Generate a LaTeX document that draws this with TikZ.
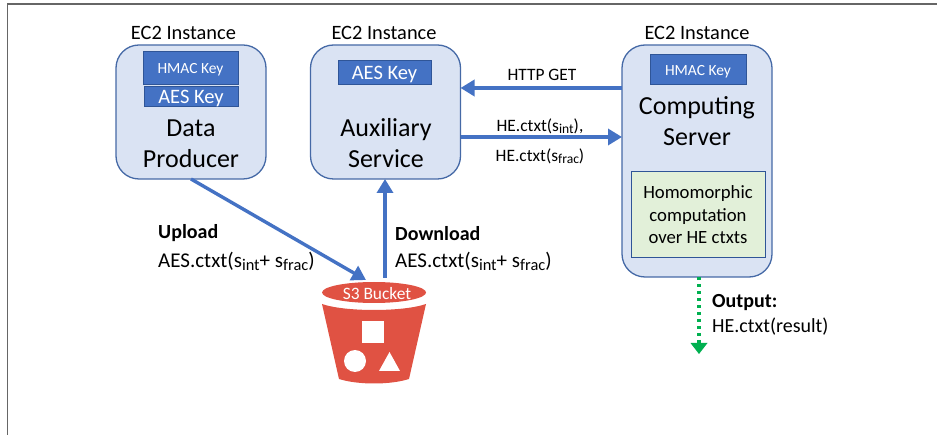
\documentclass[tikz,border=0pt]{standalone}
\usepackage{fontspec}
\setmainfont{Carlito}
\usepackage{graphicx}
\usepackage{tikz}
\usetikzlibrary{arrows.meta}
\usetikzlibrary{shapes.geometric}
\definecolor{awsblue}{HTML}{4472C4}
\definecolor{boxfill}{HTML}{DAE3F3}
\definecolor{boxline}{HTML}{4569A6}
\definecolor{keyline}{HTML}{2F5597}
\definecolor{ctxtfill}{HTML}{E2F0D9}
\definecolor{outgreen}{HTML}{00B050}
\definecolor{bucketred}{HTML}{E05243}
\newcommand{\fsize}[1]{\fontsize{#1}{#1}\selectfont}
\newcommand{\lowered}[1]{\raisebox{-0.3ex}{\scalebox{0.78}{#1}}}
\newcommand{\sinteger}{s\lowered{int}}
\newcommand{\sfraction}{s\lowered{frac}}
\tikzset{
    instance/.style={draw=boxline,fill=boxfill,line width=1.3pt,rounded corners=23pt,minimum width=150pt,outer sep=0pt},
    keybox/.style={draw=keyline,fill=awsblue,text=white,line width=1pt,outer sep=0pt,inner sep=0pt,text depth=0pt},
    title/.style={font=\fsize{20.4},inner sep=0pt},
    role/.style={font=\fsize{26},inner sep=0pt,anchor=base},
    flow/.style={awsblue,line width=3.4pt,-{Triangle[length=14pt,width=16pt]}},
    note/.style={font=\fsize{20},anchor=west,inner sep=0pt},
    small/.style={font=\fsize{17.4},inner sep=0pt}
}
\begin{document}
\begin{tikzpicture}[x=1pt,y=-1pt]%
    \useasboundingbox (0,0) rectangle (937,435);%
    \draw[gray!80!black,line width=1.2pt] (7.5,435) to (7.5,4) to (937,4);%
    % instances
    \node[instance,minimum height=134pt] (producer) at (191,112) {};%
    \node[instance,minimum height=134pt] (aux) at (385.5,112) {};%
    \node[instance,minimum height=232pt] (server) at (697,161) {};%
    \node[title] (producertitle) at (183.5,32.5) {EC2 Instance};%
    \node[title] (auxtitle) at (384,32.5) {EC2 Instance};%
    \node[title] (servertitle) at (697,32.5) {EC2 Instance};%
    % keys
    \node[keybox,minimum width=95pt,minimum height=33pt,font=\fsize{15.5}] (producerhmac) at (190.5,68.5) {HMAC Key};%
    \node[keybox,minimum width=94pt,minimum height=20pt,font=\fsize{20.5}] (produceraes) at (191,97) {AES Key};%
    \node[keybox,minimum width=93pt,minimum height=24pt,font=\fsize{20.5}] (auxaes) at (384.5,73) {AES Key};%
    \node[keybox,minimum width=96pt,minimum height=30pt,font=\fsize{15.5}] (serverhmac) at (698,70) {HMAC Key};%
    % roles
    \node[role] (data) at (191,137) {Data};%
    \node[role] (prod) at (191,168) {Producer};%
    \node[role] (auxil) at (386,137) {Auxiliary};%
    \node[role] (serv) at (386,168) {Service};%
    \node[role] (comp) at (697,115) {Computing};%
    \node[role] (servr) at (697,146) {Server};%
    \node[draw=keyline,fill=ctxtfill,line width=1pt,minimum width=134pt,minimum height=86pt,inner sep=0pt,align=center,font=\fontsize{18.7}{22.5}\selectfont] (homo) at (698,215) {Homomorphic\\computation\\over HE ctxts};%
    % bucket
    \fill[bucketred] (322,304) .. controls (345,312) and (403,312) .. (426,304) to (409,379) .. controls (390,385) and (358,385) .. (339,379) to cycle;%
    \node[ellipse,fill=bucketred,minimum width=104pt,minimum height=21pt,inner sep=0pt,outer sep=1pt] (bucket) at (374,292.5) {};%
    \node[small,text=white] (buckettext) at (377,294) {S3 Bucket};%
    \fill[white] (362,321) rectangle (384,343);%
    \fill[white] (355,361) circle (11pt);%
    \fill[white] (379,371) to (400,371) to (389.5,352) to cycle;%
    % flows
    \coordinate (getstart) at (server.west |- 0,88);%
    \coordinate (getend) at (aux.east |- 0,88);%
    \coordinate (ctstart) at (aux.east |- 0,137);%
    \coordinate (ctend) at (server.west |- 0,137);%
    \coordinate (upstart) at (191,179);%
    \coordinate (upend) at (366,280);%
    \coordinate (downstart) at (385,278);%
    \coordinate (downend) at (385,179);%
    \coordinate (outend) at (699,354);%
    \coordinate (outstart) at (699,277);%
    \draw[flow] (getstart) to (getend);%
    \draw[flow] (ctstart) to (ctend);%
    \draw[flow] (upstart) to (upend);%
    \draw[flow] (downstart) to (downend);%
    \draw[outgreen,line width=3.6pt,dash pattern=on 3.5pt off 3.5pt] (outstart) to ([yshift=9pt]outend);%
    \fill[outgreen] (690.5,343) to (707.5,343) to (699,354) to cycle;%
    % labels
    \node[small] (httplabel) at (542,75) {HTTP GET};%
    \node[small] (intlabel) at (540,126) {HE.ctxt(\sinteger),};%
    \node[small] (fraclabel) at (540,156) {HE.ctxt(\sfraction)};%
    \node[note,font=\bfseries\fsize{20}] (uplabel) at (158,233.5) {Upload};%
    \node[note,font=\fsize{21}] (upctxt) at (158,261) {AES.ctxt(\sinteger+ \sfraction)};%
    \node[note,font=\bfseries\fsize{20}] (downlabel) at (395,233.5) {Download};%
    \node[note,font=\fsize{21}] (downctxt) at (395,261) {AES.ctxt(\sinteger+ \sfraction)};%
    \node[note,font=\bfseries\fsize{20}] (outlabel) at (712,302.5) {Output:};%
    \node[note,font=\fsize{20}] (outctxt) at (712,326.5) {HE.ctxt(result)};%
\end{tikzpicture}%
\end{document}
